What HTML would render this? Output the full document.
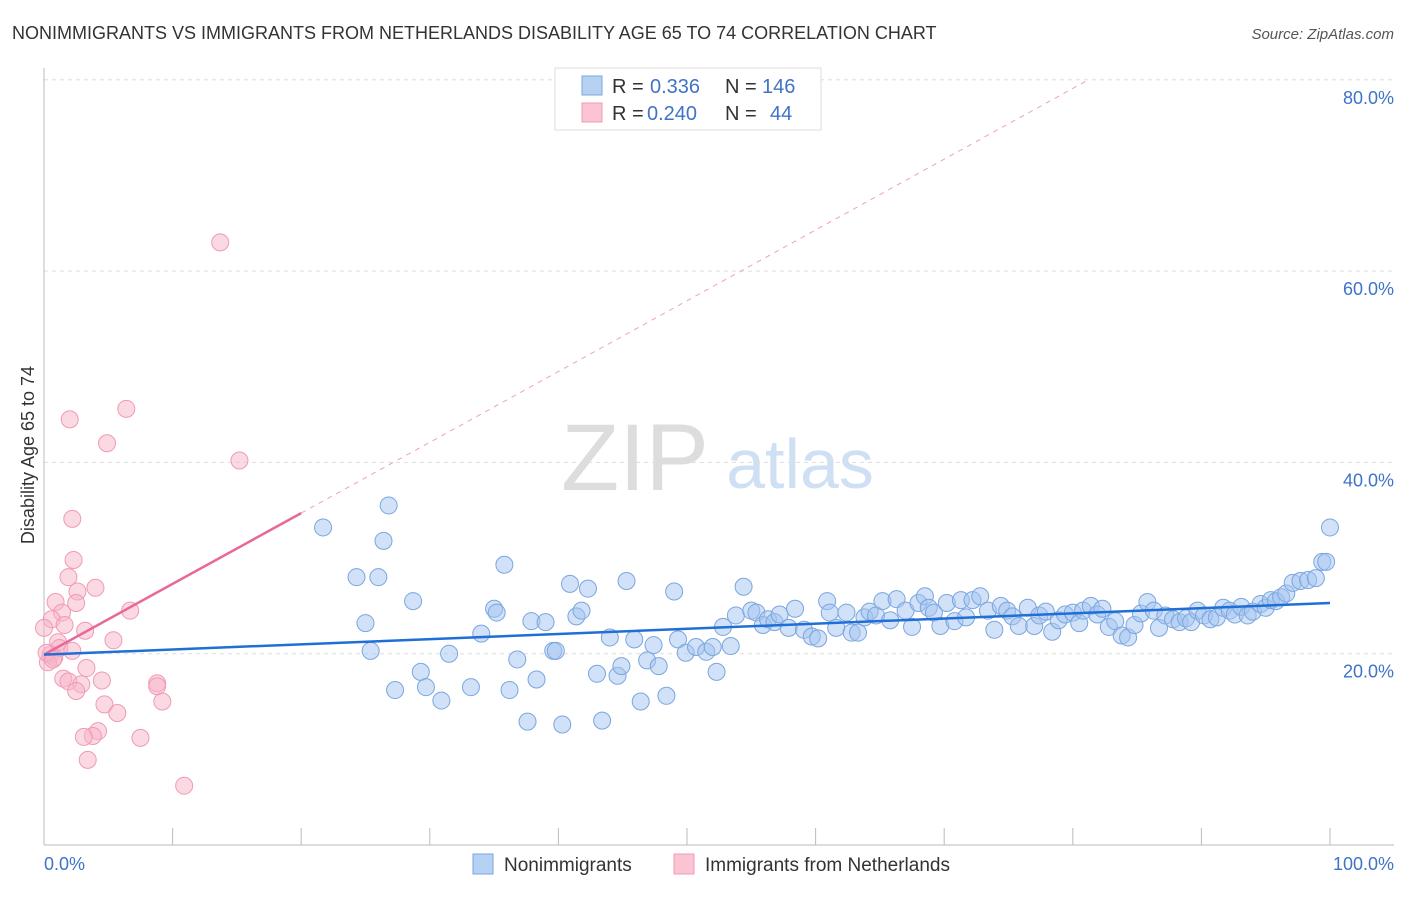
<!DOCTYPE html>
<html><head><meta charset="utf-8"><style>
body{margin:0;background:#fff;font-family:"Liberation Sans",sans-serif;}
svg text{font-family:"Liberation Sans",sans-serif;}
</style></head><body>
<svg id="chart" width="1406" height="892" xmlns="http://www.w3.org/2000/svg">
<text x="12" y="39" font-size="18" fill="#333">NONIMMIGRANTS VS IMMIGRANTS FROM NETHERLANDS DISABILITY AGE 65 TO 74 CORRELATION CHART</text>
<text x="1394" y="39" font-size="15" fill="#555" font-style="italic" text-anchor="end">Source: ZipAtlas.com</text>
<text x="34" y="455" font-size="18" fill="#333" text-anchor="middle" transform="rotate(-90 34 455)">Disability Age 65 to 74</text>
<g><text x="635" y="490" font-size="95" fill="#ddd" font-family="Liberation Serif" text-anchor="middle">ZIP</text><text x="800" y="488" font-size="70" fill="#cfe0f5" text-anchor="middle">atlas</text></g>
<g id="grid"></g><g id="marks"></g>
<g>
<rect x="555" y="68" width="266" height="62" fill="#fff" stroke="#ddd"/>
<rect x="582" y="76" width="20" height="19" fill="#b7d1f3" stroke="#7aa6e0"/>
<rect x="582" y="103" width="20" height="19" fill="#fac4d3" stroke="#f09ab4"/>
<text x="612" y="93" font-size="20" fill="#333">R = </text><text x="650" y="93" font-size="20" fill="#3f73c9">0.336</text>
<text x="725" y="93" font-size="20" fill="#333">N = </text><text x="762" y="93" font-size="20" fill="#3f73c9">146</text>
<text x="612" y="120" font-size="20" fill="#333">R = </text><text x="647" y="120" font-size="20" fill="#3f73c9">0.240</text>
<text x="725" y="120" font-size="20" fill="#333">N = </text><text x="770" y="120" font-size="20" fill="#3f73c9">44</text>
</g>
<g>
<rect x="473" y="854" width="20" height="20" fill="#b7d1f3" stroke="#7aa6e0"/>
<text x="504" y="871" font-size="19" fill="#333">Nonimmigrants</text>
<rect x="674" y="854" width="20" height="20" fill="#fac4d3" stroke="#f09ab4"/>
<text x="705" y="871" font-size="19" fill="#333">Immigrants from Netherlands</text>
</g>
<text x="44" y="870" font-size="18" fill="#3f73c9">0.0%</text>
<text x="1394" y="870" font-size="18" fill="#3f73c9" text-anchor="end">100.0%</text>
</svg>
<script>
const yTicks=[20,40,60,80];
const xTickVals=[0,10,20,30,40,50,60,70,80,90,100];
const blueTrend=[19.9,25.3];
const pinkTrend=[19.9,34.7];
const blueX=[21.7,26.8,26.4,24.3,26,25,25.4,28.7,27.3,29.3,29.7,30.9,31.5,33.2,34,35,35.2,35.8,36.2,36.8,37.6,37.9,38.3,39,39.6,39.8,40.3,40.9,41.4,41.8,42.3,43,43.4,44,44.6,44.9,45.3,45.9,46.4,46.9,47.4,47.8,48.4,49,49.3,49.9,50.7,51.5,52,52.3,52.8,53.4,53.8,54.4,55,55.4,55.9,56.3,56.8,57.2,57.9,58.4,59.1,59.7,60.2,60.9,61.1,61.6,62.4,62.8,63.3,63.8,64.2,64.7,65.2,65.8,66.3,67,67.5,68,68.5,68.8,69.2,69.7,70.2,70.8,71.3,71.7,72.2,72.8,73.4,73.9,74.4,74.9,75.3,75.8,76.5,77,77.4,77.9,78.4,78.9,79.4,80,80.5,80.8,81.4,81.9,82.3,82.8,83.3,83.8,84.3,84.8,85.3,85.8,86.3,86.7,87.2,87.8,88.3,88.8,89.2,89.7,90.2,90.7,91.2,91.7,92.2,92.6,93.1,93.6,94,94.6,95,95.4,95.8,96.2,96.6,97.1,97.7,98.3,98.9,99.4,99.7,100];
const blueY=[33.2,35.5,31.8,28,28,23.2,20.3,25.5,16.2,18.1,16.5,15.1,20,16.5,22.1,24.7,24.3,29.3,16.2,19.4,12.9,23.4,17.3,23.3,20.3,20.3,12.6,27.3,23.9,24.5,26.8,17.9,13,21.7,17.7,18.7,27.6,21.5,15,19.3,20.9,18.7,15.6,26.5,21.5,20.1,20.7,20.2,20.7,18.1,22.8,20.8,24,27,24.5,24.3,23,23.6,23.3,24.1,22.7,24.7,22.5,21.8,21.6,25.5,24.3,22.7,24.3,22.2,22.2,23.8,24.4,24,25.5,23.5,25.7,24.5,22.8,25.3,26,24.8,24.3,22.9,25.3,23.4,25.6,23.8,25.6,26,24.5,22.5,25,24.5,23.9,22.9,24.8,22.9,24,24.4,22.3,23.5,24.1,24.3,23.2,24.5,25,24.1,24.7,22.8,23.4,21.9,21.7,23,24.2,25.4,24.5,22.7,24,23.6,23.3,23.7,23.3,24.5,24,23.6,23.8,24.8,24.5,24.1,24.9,24,24.4,25.2,24.8,25.6,25.5,25.9,26.3,27.4,27.6,27.7,27.9,29.6,29.6,33.2];
const pinkX=[13.7,6.4,2,4.9,15.2,2.2,2.3,1.9,4,2.6,0.9,2.5,1.4,0.6,1.6,3.2,5.4,1.1,1.2,2.2,0.5,0.8,0.3,3.3,1.5,1.9,4.5,2.9,2.5,4.7,5.7,8.8,8.8,9.2,4.2,3.8,3.1,7.5,3.4,10.9,6.7,0.2,0,0.7];
const pinkY=[63,45.6,44.5,42,40.2,34.1,29.8,28,26.9,26.5,25.4,25.3,24.3,23.6,23,22.4,21.4,21.2,20.6,20.3,19.9,19.6,19.1,18.5,17.4,17.1,17.2,16.8,16.1,14.7,13.8,16.9,16.6,15,11.9,11.4,11.3,11.2,8.9,6.2,24.5,20.1,22.7,19.4];
const X=v=>44+v*12.86, Y=v=>845-v*9.565;
const NS='http://www.w3.org/2000/svg';
const grid=document.getElementById('grid'), marks=document.getElementById('marks');
function mk(tag,attrs,parent){const e=document.createElementNS(NS,tag);for(const k in attrs)e.setAttribute(k,attrs[k]);parent.appendChild(e);return e;}
yTicks.forEach(t=>{
  const l=mk('line',{x1:44,x2:1394,y1:Y(t),y2:Y(t),stroke:'#ddd','stroke-dasharray':'4 4'},grid);
  
  
  const tx=mk('text',{x:1394,y:Y(t)+24,'font-size':18,fill:'#3f73c9','text-anchor':'end'},grid);
  tx.textContent=t.toFixed(1)+'%';
  
  
});
const ax=mk('line',{x1:44,x2:1394,y1:845,y2:845,stroke:'#bbb'},grid);


const ay=mk('line',{x1:44,x2:44,y1:68,y2:845,stroke:'#bbb'},grid);


xTickVals.forEach(v=>{
  const l=mk('line',{x1:X(v),x2:X(v),y1:828,y2:845,stroke:'#bbb'},grid);
  
  
});
blueX.forEach((x,i)=>{
  const c=mk('circle',{cx:X(x),cy:Y(blueY[i]),r:8.5,fill:'rgba(164,196,240,0.5)',stroke:'#7aa6e0','stroke-width':1},marks);
  
  
});
pinkX.forEach((x,i)=>{
  const c=mk('circle',{cx:X(x),cy:Y(pinkY[i]),r:8.5,fill:'rgba(248,180,200,0.5)',stroke:'#f09ab4','stroke-width':1},marks);
  
  
});
const slope=(pinkTrend[1]-pinkTrend[0])/20;
const xEnd=(80-pinkTrend[0])/slope;
const pd=mk('line',{x1:X(20),y1:Y(pinkTrend[1]),x2:X(xEnd),y2:Y(80),stroke:'#f0a0bb','stroke-dasharray':'5 5','stroke-width':1},marks);


const pl=mk('line',{x1:X(0),y1:Y(pinkTrend[0]),x2:X(20),y2:Y(pinkTrend[1]),stroke:'#e8689a','stroke-width':2.5},marks);


const bl=mk('line',{x1:X(0),y1:Y(blueTrend[0]),x2:X(100),y2:Y(blueTrend[1]),stroke:'#1f6fd6','stroke-width':2.5},marks);


</script>
</body></html>
